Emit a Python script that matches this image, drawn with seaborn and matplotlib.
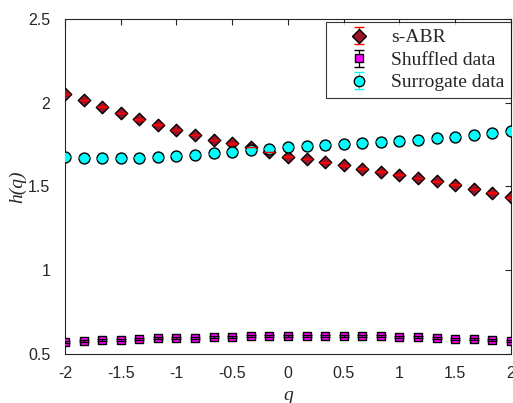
import numpy as np
import pandas as pd
import matplotlib
matplotlib.use("Agg")
import matplotlib.pyplot as plt
from matplotlib.legend_handler import HandlerErrorbar
import seaborn as sns

# q grid and generalized Hurst exponents h(q)
q = [-2.0, -1.8333, -1.6667, -1.5, -1.3333, -1.1667, -1.0, -0.8333, -0.6667, -0.5,
     -0.3333, -0.1667, 0.0, 0.1667, 0.3333, 0.5, 0.6667, 0.8333, 1.0, 1.1667,
     1.3333, 1.5, 1.6667, 1.8333, 2.0]

h_sabr = [2.052, 2.016, 1.976, 1.939, 1.901, 1.869, 1.837, 1.807, 1.778, 1.758,
          1.735, 1.705, 1.678, 1.664, 1.645, 1.627, 1.606, 1.588, 1.570, 1.551,
          1.531, 1.510, 1.485, 1.463, 1.436]

h_shuffled = [0.573, 0.578, 0.582, 0.585, 0.590, 0.594, 0.596, 0.597, 0.600, 0.603,
              0.606, 0.606, 0.607, 0.607, 0.609, 0.607, 0.607, 0.606, 0.603, 0.600,
              0.596, 0.591, 0.590, 0.585, 0.579]

h_surrogate = [1.678, 1.672, 1.668, 1.668, 1.670, 1.674, 1.682, 1.690, 1.698, 1.708,
               1.718, 1.724, 1.736, 1.744, 1.750, 1.756, 1.762, 1.768, 1.772, 1.780,
               1.788, 1.797, 1.806, 1.818, 1.831]

err_sabr = [0.002] * len(q)
err_shuffled = [0.006] * len(q)
err_surrogate = [0.003] * len(q)

series_names = ["s-ABR", "Shuffled data", "Surrogate data"]
x_ticks = [-2, -1.5, -1, -0.5, 0, 0.5, 1, 1.5, 2]
x_tick_labels = ["-2", "-1.5", "-1", "-0.5", "0", "0.5", "1", "1.5", "2"]
y_ticks = [0.5, 1, 1.5, 2, 2.5]
y_tick_labels = ["0.5", "1", "1.5", "2", "2.5"]

df = pd.DataFrame({
    "q": q * 3,
    "h": h_sabr + h_shuffled + h_surrogate,
    "err": err_sabr + err_shuffled + err_surrogate,
    "series": [series_names[0]] * len(q) + [series_names[1]] * len(q) + [series_names[2]] * len(q),
})

sns.set_style("white")
plt.rcParams["font.family"] = ["Liberation Sans", "DejaVu Sans"]

# marker style, scatter area (pt^2) and legend marker size (pt)
styles = {
    "s-ABR": dict(marker="D", face="#9b1428", ecolor="#ff0000", s=40, ms=7.0),
    "Shuffled data": dict(marker="s", face="#ff00ff", ecolor="#000000", s=38, ms=6.0),
    "Surrogate data": dict(marker="o", face="#00ffff", ecolor="#00ffff", s=62, ms=7.5),
}

fig = plt.figure(figsize=(5.13, 4.03), dpi=100)
ax = fig.add_axes([0.1267, 0.1216, 0.8693, 0.8314])

handles = []
for name in series_names:
    st = styles[name]
    sub = df[df["series"] == name]
    sns.scatterplot(data=sub, x="q", y="h", ax=ax, marker=st["marker"],
                    color=st["face"], edgecolor="black", linewidth=1.0,
                    s=st["s"], legend=False, zorder=3)
    ax.errorbar(sub["q"], sub["h"], yerr=sub["err"], fmt="none",
                ecolor=st["ecolor"], elinewidth=0.9, capsize=3.5, capthick=0.9,
                zorder=4)
    # proxy artist for the legend: marker with vertical error bar
    hnd = ax.errorbar([np.nan], [np.nan], yerr=[0.1], fmt=st["marker"],
                      mfc=st["face"], mec="black", mew=1.0, ms=st["ms"],
                      ecolor=st["ecolor"], elinewidth=0.9, capsize=3.6, capthick=0.9)
    handles.append(hnd)

ax.set_xlim(-2, 2)
ax.set_ylim(0.5, 2.5)
ax.set_xticks(x_ticks)
ax.set_xticklabels(x_tick_labels)
ax.set_yticks(y_ticks)
ax.set_yticklabels(y_tick_labels)
ax.tick_params(direction="in", length=4, width=0.8, top=True, right=True,
               labelsize=11.5, labelcolor="#262626", color="#262626")
ax.tick_params(axis="x", pad=9)
ax.tick_params(axis="y", pad=10.5)
for sp in ax.spines.values():
    sp.set_visible(True)
    sp.set_color("#262626")
    sp.set_linewidth(0.8)

ax.set_xlabel("q", family=["Liberation Serif"], style="italic", fontsize=14,
              color="#262626", labelpad=4)
ax.set_ylabel("h(q)", family=["Liberation Serif"], style="italic", fontsize=14,
              color="#262626", labelpad=1.5)

leg = ax.legend(handles, series_names, loc="upper right",
                bbox_to_anchor=(511 / 513, (403 - 22) / 403),
                bbox_transform=fig.transFigure,
                prop={"family": "Liberation Serif", "size": 14},
                frameon=True, fancybox=False, edgecolor="black",
                borderaxespad=0.0, handlelength=2.7, handletextpad=0.3,
                labelspacing=0.25, borderpad=0.35,
                handler_map={type(handles[0]): HandlerErrorbar(xerr_size=0.44, yerr_size=0.44)})
leg.get_frame().set_linewidth(0.8)

fig.savefig("out.png", dpi=100)
